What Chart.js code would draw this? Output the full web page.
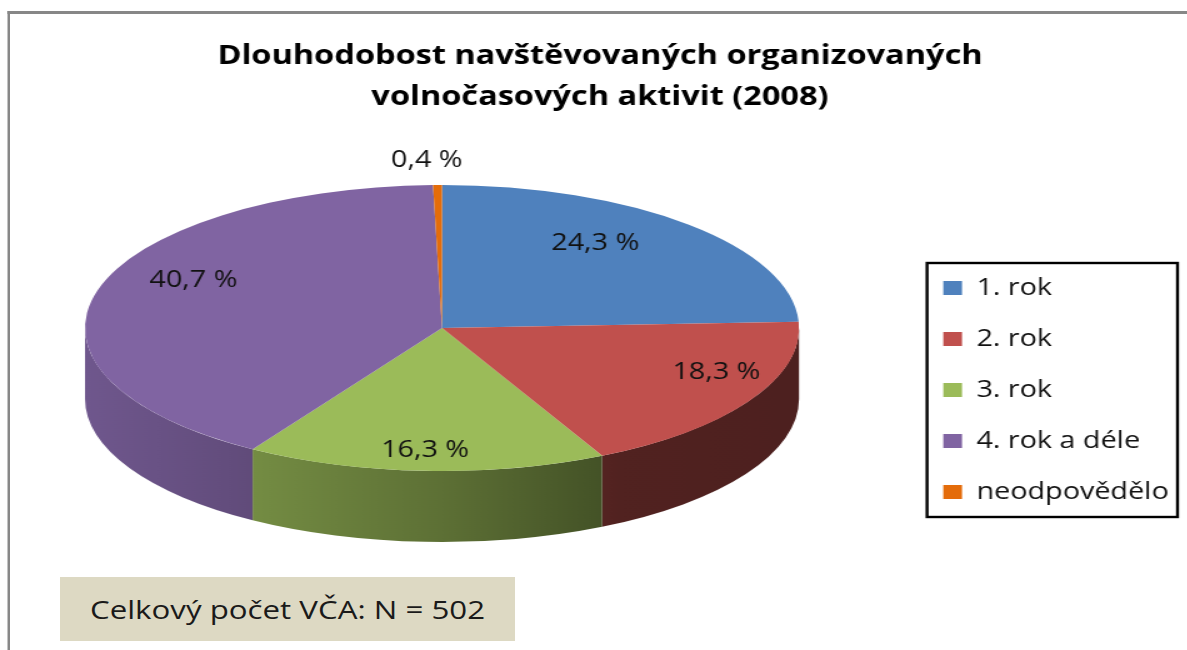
<!DOCTYPE html>
<html>
<head>
<meta charset="utf-8">
<script src="https://cdn.jsdelivr.net/npm/chart.js@4/dist/chart.umd.min.js"></script>
<style>
  html, body { margin: 0; padding: 0; background: #ffffff; overflow: hidden; width: 1187px; height: 650px; }
  #stage { position: absolute; left: 0; top: 0; width: 950px; height: 650px; transform: scaleX(1.25); transform-origin: 0 0; }
  #wrap { position: absolute; left: 0; top: 0; width: 950px; height: 650px; }
  #frame { position: absolute; left: 5.6px; top: 11px; width: 980px; height: 700px; border-left: 2.4px solid #878787; border-top: 3px solid #878787; pointer-events: none; }
  #note { position: absolute; left: 48px; top: 577px; width: 364px; height: 64px; background: #DDD9C3; font-family: "Open Sans"; font-size: 25px; line-height: 64px; text-align: center; color: #1a1a1a; white-space: nowrap; }
</style>
</head>
<body>
<div id="stage">
  <div id="wrap"><canvas id="c"></canvas></div>
  <div id="frame"></div>
  <div id="note"></div>
</div>
<script>
// ---- data ----
const categories = ['1. rok', '2. rok', '3. rok', '4. rok a déle', 'neodpovědělo'];
const shares = [24.3, 18.3, 16.3, 40.7, 0.4];
const titleLines = ['Dlouhodobost navštěvovaných organizovaných', 'volnočasových aktivit (2008)'];
const noteText = 'Celkový počet VČA: N = 502';

// ---- styles ----
const palette = ['#4F81BD', '#C0504D', '#9BBB59', '#8064A2', '#E46C0A'];
const PIE = { cx: 353.6, cy: 328, flatten: 0.5007, depth: 71, radius: 285.6, apexLift: 20 };

document.getElementById('note').textContent = noteText;

function shade(hex, f) {
  const n = parseInt(hex.slice(1), 16);
  const r = Math.round(((n >> 16) & 255) * f);
  const g = Math.round(((n >> 8) & 255) * f);
  const b = Math.round((n & 255) * f);
  return 'rgb(' + r + ',' + g + ',' + b + ')';
}
function fmt(v) { return v.toFixed(1).replace('.', ',') + ' %'; }

const pie3d = {
  id: 'pie3d',
  beforeDatasetsDraw(chart) {
    const arcs = chart.getDatasetMeta(0).data;
    if (!arcs.length) return;
    const ctx = chart.ctx;
    const a0 = arcs[0];
    const r = a0.outerRadius, k = PIE.flatten, cx = PIE.cx, cy = PIE.cy, D = PIE.depth;
    arcs.forEach((arc, i) => {
      const lo = Math.max(arc.startAngle, 0);
      const hi = Math.min(arc.endAngle, Math.PI);
      if (hi <= lo) return;
      const base = palette[i];
      const g = ctx.createLinearGradient(cx - r, 0, cx + r, 0);
      g.addColorStop(0, shade(base, 0.87));
      g.addColorStop(0.2, shade(base, 0.77));
      g.addColorStop(0.5, shade(base, 0.6));
      g.addColorStop(0.75, shade(base, 0.42));
      g.addColorStop(1, shade(base, 0.40));
      ctx.beginPath();
      ctx.ellipse(cx, cy, r, r * k, 0, lo, hi, false);
      ctx.ellipse(cx, cy + D, r, r * k, 0, hi, lo, true);
      ctx.closePath();
      ctx.fillStyle = g;
      ctx.fill();
    });
    ctx.save();
    ctx.translate(cx, cy);
    ctx.scale(1, k);
    ctx.translate(-a0.x, -a0.y);
  },
  afterDatasetsDraw(chart) {
    const ctx = chart.ctx;
    ctx.restore();
    const arcs = chart.getDatasetMeta(0).data;
    if (!arcs.length) return;
    const r = arcs[0].outerRadius, k = PIE.flatten, cx = PIE.cx, cy = PIE.cy;
    ctx.save();
    ctx.font = '23px "Open Sans"';
    ctx.fillStyle = '#111111';
    ctx.textAlign = 'center';
    ctx.textBaseline = 'middle';
    arcs.forEach((arc, i) => {
      const mid = (arc.startAngle + arc.endAngle) / 2;
      const frac = (arc.endAngle - arc.startAngle) / (2 * Math.PI);
      let x, y;
      if (frac < 0.03) {
        x = cx + r * 1.17 * Math.cos(mid) - 8;
        y = cy + r * k * 1.17 * Math.sin(mid);
      } else {
        const f = 0.78 + 0.22 * Math.sin(mid);
        x = cx + r * f * Math.cos(mid);
        y = cy - PIE.apexLift + r * k * f * Math.sin(mid);
      }
      ctx.fillText(fmt(shares[i]), x, y);
    });
    ctx.restore();
  },
  afterDraw(chart) {
    const lg = chart.legend;
    if (!lg || !lg.legendHitBoxes || !lg.legendHitBoxes.length) return;
    const hb = lg.legendHitBoxes;
    const ctx = chart.ctx;
    let right = 0;
    hb.forEach(h => { right = Math.max(right, h.left + h.width); });
    const left = hb[0].left - 13;
    const top = hb[0].top - 13.5;
    const last = hb[hb.length - 1];
    const bottom = last.top + last.height + 13.5;
    ctx.save();
    ctx.strokeStyle = '#000000';
    ctx.lineWidth = 2.4;
    ctx.strokeRect(left, top, right + 7 - left, bottom - top);
    ctx.restore();
  }
};

new Chart(document.getElementById('c'), {
  type: 'pie',
  data: {
    labels: categories,
    datasets: [{
      data: shares,
      backgroundColor: palette,
      borderWidth: 0,
      hoverOffset: 0,
      clip: false
    }]
  },
  options: {
    responsive: true,
    maintainAspectRatio: false,
    animation: false,
    radius: PIE.radius,
    layout: { padding: { top: 0, right: 5, bottom: 118.5, left: 15 } },
    plugins: {
      tooltip: { enabled: false },
      title: {
        display: true,
        text: titleLines,
        color: '#000000',
        font: { family: 'Open Sans', size: 26, weight: 'bold', lineHeight: 1.58 },
        padding: { top: 36, bottom: 40 }
      },
      legend: {
        position: 'right',
        align: 'end',
        labels: {
          font: { family: 'Open Sans', size: 23 },
          color: '#111111',
          boxWidth: 15,
          boxHeight: 14,
          padding: 28
        }
      }
    }
  },
  plugins: [pie3d]
});
</script>
</body>
</html>
